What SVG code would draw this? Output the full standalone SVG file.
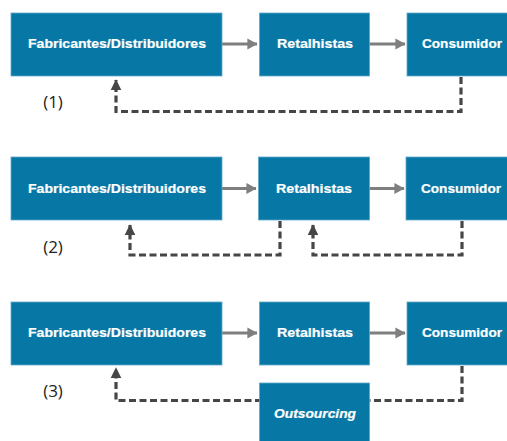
<svg xmlns="http://www.w3.org/2000/svg" width="507" height="441" viewBox="0 0 507 441">
  <style>
    .box { fill: #0778a6; stroke: #5fa9c9; stroke-width: 0.8; }
    .lbl { fill: #ffffff; stroke: #ffffff; stroke-width: 0.2; font-family: "Liberation Sans", Arial, sans-serif; font-weight: bold; font-size: 12.5px; text-anchor: middle; dominant-baseline: central; }
    .it { font-style: italic; }
    .num { fill: #222222; font-family: "Open Sans", "Liberation Sans", sans-serif; font-size: 17px; text-anchor: middle; dominant-baseline: central; }
    .flow { stroke: #7f7f7f; stroke-width: 3; fill: none; marker-end: url(#solidHead); }
    .back { stroke: #464646; stroke-width: 3.2; fill: none; stroke-dasharray: 7 3.5; }
    .backArrow { marker-end: url(#dashHead); }
  </style>
  <defs>
    <marker id="solidHead" markerWidth="4" markerHeight="4" refX="3.2" refY="2" orient="auto" markerUnits="strokeWidth">
      <path d="M0,0.2 L3.4,2 L0,3.8 Z" fill="#7f7f7f"/>
    </marker>
    <marker id="dashHead" markerWidth="4" markerHeight="4" refX="3.2" refY="2" orient="auto" markerUnits="strokeWidth">
      <path d="M0,0.3 L3.4,2 L0,3.7 Z" fill="#464646"/>
    </marker>
  </defs>

  <!-- connectors -->
  <g id="connectors">
    <!-- row 1 -->
    <line class="flow" x1="222" y1="44" x2="257" y2="44"/>
    <line class="flow" x1="369" y1="44" x2="405" y2="44"/>
    <polyline class="back backArrow" points="461,77 461,111.5 116,111.5 116,80"/>
    <!-- row 2 -->
    <line class="flow" x1="222" y1="188.5" x2="256" y2="188.5"/>
    <line class="flow" x1="369" y1="188.5" x2="404" y2="188.5"/>
    <polyline class="back backArrow" points="280,221 280,255 130,255 130,225"/>
    <polyline class="back backArrow" points="462,221 462,255 313,255 313,225"/>
    <!-- row 3 -->
    <line class="flow" x1="222" y1="333" x2="257" y2="333"/>
    <line class="flow" x1="369" y1="333" x2="405" y2="333"/>
    <polyline class="back" points="462,366 462,400.5 369,400.5"/>
    <polyline class="back backArrow" points="262,400.5 116,400.5 116,368"/>
  </g>

  <!-- row 1 nodes -->
  <g id="fab1"><rect class="box" x="11" y="13" width="211" height="63"/><text class="lbl" x="117" y="44" textLength="178" lengthAdjust="spacingAndGlyphs">Fabricantes/Distribuidores</text></g>
  <g id="ret1"><rect class="box" x="259.5" y="13" width="110" height="63"/><text class="lbl" x="315" y="44" textLength="76" lengthAdjust="spacingAndGlyphs">Retalhistas</text></g>
  <g id="con1"><rect class="box" x="407" y="13" width="101" height="63"/><text class="lbl" x="462" y="44" textLength="80" lengthAdjust="spacingAndGlyphs">Consumidor</text></g>
  <g id="lbl1"><text class="num" x="53" y="101">(1)</text></g>

  <!-- row 2 nodes -->
  <g id="fab2"><rect class="box" x="11" y="157" width="211" height="63"/><text class="lbl" x="117" y="188.5" textLength="178" lengthAdjust="spacingAndGlyphs">Fabricantes/Distribuidores</text></g>
  <g id="ret2"><rect class="box" x="258.5" y="157" width="111" height="63"/><text class="lbl" x="314" y="188.5" textLength="76" lengthAdjust="spacingAndGlyphs">Retalhistas</text></g>
  <g id="con2"><rect class="box" x="406" y="157" width="102" height="63"/><text class="lbl" x="461" y="188.5" textLength="80" lengthAdjust="spacingAndGlyphs">Consumidor</text></g>
  <g id="lbl2"><text class="num" x="53" y="246">(2)</text></g>

  <!-- row 3 nodes -->
  <g id="fab3"><rect class="box" x="11" y="302" width="211" height="63"/><text class="lbl" x="117" y="333" textLength="178" lengthAdjust="spacingAndGlyphs">Fabricantes/Distribuidores</text></g>
  <g id="ret3"><rect class="box" x="259.5" y="302" width="110" height="63"/><text class="lbl" x="315" y="333" textLength="76" lengthAdjust="spacingAndGlyphs">Retalhistas</text></g>
  <g id="con3"><rect class="box" x="407" y="302" width="101" height="63"/><text class="lbl" x="462" y="333" textLength="80" lengthAdjust="spacingAndGlyphs">Consumidor</text></g>
  <g id="out3"><rect class="box" x="259.5" y="383" width="110" height="63"/><text class="lbl it" x="315" y="414" textLength="82" lengthAdjust="spacingAndGlyphs">Outsourcing</text></g>
  <g id="lbl3"><text class="num" x="53" y="390">(3)</text></g>
</svg>
